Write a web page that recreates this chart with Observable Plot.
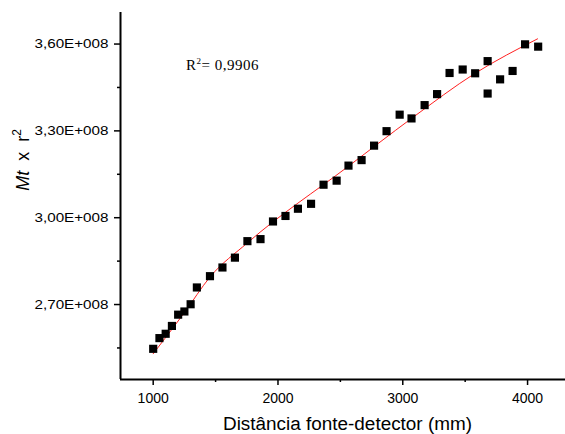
<!DOCTYPE html>
<html>
<head>
<meta charset="utf-8">
<script src="https://cdn.jsdelivr.net/npm/d3@7"></script>
<script src="https://cdn.jsdelivr.net/npm/@observablehq/plot@0.6"></script>
<style>
  html, body { margin: 0; padding: 0; background: #ffffff; }
  #chart { width: 565px; height: 434px; }
</style>
</head>
<body>
<div id="chart"></div>
<script>
// Distância fonte-detector (mm)
const distancia = [1000, 1050, 1100, 1150, 1200, 1250, 1300, 1350, 1455, 1555, 1655, 1755,
  1860, 1960, 2060, 2160, 2265, 2365, 2470, 2565, 2670, 2770, 2870, 2975, 3070, 3175,
  3275, 3375, 3480, 3580, 3680, 3680, 3780, 3880, 3980, 4085];
// Mt x r^2
const mtr2 = [2.547e8, 2.584e8, 2.599e8, 2.626e8, 2.665e8, 2.676e8, 2.701e8, 2.759e8,
  2.798e8, 2.828e8, 2.862e8, 2.919e8, 2.926e8, 2.987e8, 3.006e8, 3.031e8, 3.048e8,
  3.114e8, 3.128e8, 3.180e8, 3.199e8, 3.249e8, 3.299e8, 3.356e8, 3.343e8, 3.389e8,
  3.427e8, 3.500e8, 3.512e8, 3.499e8, 3.541e8, 3.429e8, 3.478e8, 3.507e8, 3.599e8, 3.591e8];

// fitted curve (red)
const fitX = [1000, 1250, 1455, 1755, 2565, 3070, 3580, 4080];
const fitY = [2.530e8, 2.672e8, 2.795e8, 2.913e8, 3.178e8, 3.343e8, 3.499e8, 3.618e8];

const yTicks = [2.7e8, 3.0e8, 3.3e8, 3.6e8];
const yMinorTicks = [2.55e8, 2.85e8, 3.15e8, 3.45e8];
const xTicks = [1000, 2000, 3000, 4000];
const xMinorTicks = [1500, 2500, 3500];
const xLabel = "Distância fonte-detector (mm)";
const r2Label = "0,9906";

const points = distancia.map((d, i) => ({x: d, y: mtr2[i]}));
const fit = fitX.map((d, i) => ({x: d, y: fitY[i]}));

const xDomain = [738, 4304];
const yDomain = [2.441e8, 3.709e8];
const yFmt = v => (v / 1e8).toFixed(2).replace(".", ",") + "E+008";

const svg = Plot.plot({
  width: 565,
  height: 434,
  marginLeft: 120,
  marginRight: 0,
  marginTop: 12,
  marginBottom: 55,
  style: {background: "#ffffff", fontFamily: "'Liberation Sans', Arial, sans-serif", color: "#000", overflow: "visible"},
  x: {domain: xDomain, label: null},
  y: {domain: yDomain, label: null},
  marks: [
    Plot.axisY(yTicks, {tickSize: 6, tickPadding: 6, tickFormat: yFmt, fontSize: 13, strokeWidth: 1.5, label: null}),
    Plot.axisY(yMinorTicks, {tickSize: 3, tickFormat: () => "", strokeWidth: 1.5, label: null}),
    Plot.axisX(xTicks, {tickSize: 6, tickPadding: 8, tickFormat: d => String(d), fontSize: 14, strokeWidth: 1.5, label: null}),
    Plot.axisX(xMinorTicks, {tickSize: 3, tickFormat: () => "", strokeWidth: 1.5, label: null}),
    Plot.ruleX([xDomain[0]], {stroke: "#000", strokeWidth: 2}),
    Plot.ruleY([yDomain[0]], {stroke: "#000", strokeWidth: 2}),
    Plot.line(fit, {x: "x", y: "y", stroke: "#ff2020", strokeWidth: 1, curve: "monotone-x"}),
    Plot.dot(points, {x: "x", y: "y", symbol: "square", r: 4.6, fill: "#000", stroke: "none"})
  ]
});

const s = d3.select(svg);
s.selectAll('[aria-label="y-axis tick label"] text')
  .attr("textLength", 74).attr("lengthAdjust", "spacingAndGlyphs");

// x axis title
s.append("text")
  .attr("x", 347.5).attr("y", 430)
  .attr("text-anchor", "middle")
  .attr("font-size", 18)
  .attr("fill", "#000")
  .attr("textLength", 249).attr("lengthAdjust", "spacingAndGlyphs")
  .text(xLabel);

// y axis title: Mt x r²
const yt = s.append("text")
  .attr("transform", "translate(28.5,160) rotate(-90)")
  .attr("text-anchor", "middle")
  .attr("font-size", 18)
  .attr("word-spacing", 5)
  .attr("fill", "#000");
yt.append("tspan").attr("font-style", "italic").text("Mt");
yt.append("tspan").text(" x r");
yt.append("tspan").attr("font-size", 12).attr("dy", -8).text("2");

// R² annotation
const rt = s.append("text")
  .attr("x", 186).attr("y", 70.3)
  .attr("text-anchor", "start")
  .attr("font-family", "'Liberation Serif', 'Times New Roman', serif")
  .attr("font-size", 15)
  .attr("letter-spacing", 0.5)
  .attr("fill", "#000");
rt.append("tspan").text("R");
rt.append("tspan").attr("font-size", 9).attr("dy", -6).text("2");
rt.append("tspan").attr("dy", 6).text("= " + r2Label);

document.getElementById("chart").appendChild(svg);
</script>
</body>
</html>
